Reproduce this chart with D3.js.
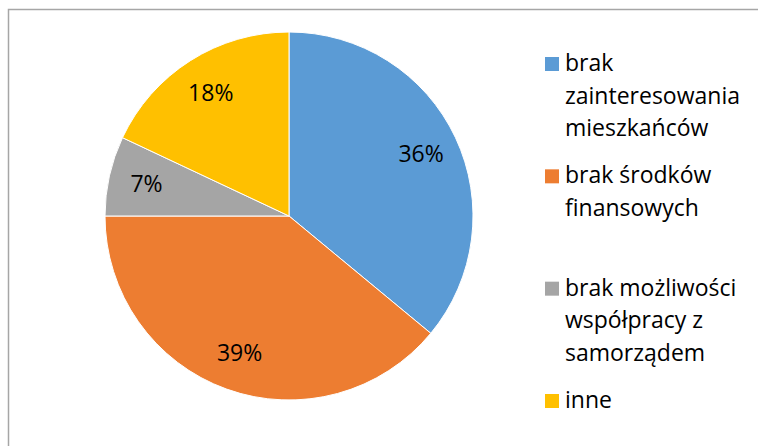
<!DOCTYPE html>
<html>
<head>
<meta charset="utf-8">
<script src="https://cdn.jsdelivr.net/npm/d3@7"></script>
<style>
  body { margin: 0; background: #fff; }
  svg { display: block; }
</style>
</head>
<body>
<div id="chart"></div>
<script>
const categories = [
    ["brak", "zainteresowania", "mieszkańców"],
    ["brak środków", "finansowych"],
    ["brak możliwości", "współpracy z", "samorządem"],
    ["inne"]
];
const values = [36, 39, 7, 18];
const colors = ["#5B9BD5", "#ED7D31", "#A5A5A5", "#FFC000"];

const width = 758, height = 446;
const cx = 289, cy = 216, radius = 184;
const font = "'Open Sans', sans-serif";
const fontSize = "23px";

const svg = d3.select("#chart").append("svg")
    .attr("width", width)
    .attr("height", height);

// ramka wykresu
svg.append("rect")
    .attr("x", 8.5).attr("y", 9.5)
    .attr("width", width + 20).attr("height", height + 20)
    .attr("fill", "none")
    .attr("stroke", "#A6A6A6")
    .attr("stroke-width", 1.5);

const pie = d3.pie().sort(null).value(d => d);
const arcs = pie(values);
const arc = d3.arc().innerRadius(0).outerRadius(radius);
const labelArc = d3.arc().innerRadius(146).outerRadius(146);

const g = svg.append("g").attr("transform", `translate(${cx},${cy})`);

g.selectAll("path")
    .data(arcs)
    .join("path")
    .attr("d", arc)
    .attr("fill", (d, i) => colors[i])
    .attr("stroke", "#fff")
    .attr("stroke-width", 1);

const total = d3.sum(values);
g.selectAll("text")
    .data(arcs)
    .join("text")
    .attr("transform", d => `translate(${labelArc.centroid(d)})`)
    .attr("text-anchor", "middle")
    .attr("dy", "0.35em")
    .attr("font-family", font)
    .attr("font-size", fontSize)
    .attr("fill", "#000")
    .text(d => Math.round(d.data / total * 100) + "%");

// legenda
const legendY = d3.scaleLinear().domain([0, 3]).range([71, 408]);
const legend = svg.append("g");
categories.forEach((lines, i) => {
    const y0 = legendY(i);
    legend.append("rect")
        .attr("x", 545).attr("y", y0 - 14)
        .attr("width", 14).attr("height", 14)
        .attr("fill", colors[i]);
    const t = legend.append("text")
        .attr("x", 565).attr("y", y0)
        .attr("font-family", font)
        .attr("font-size", fontSize)
        .attr("fill", "#000");
    lines.forEach((l, j) => {
        t.append("tspan").attr("x", 565).attr("y", y0 + j * 32.6).text(l);
    });
});
</script>
</body>
</html>
